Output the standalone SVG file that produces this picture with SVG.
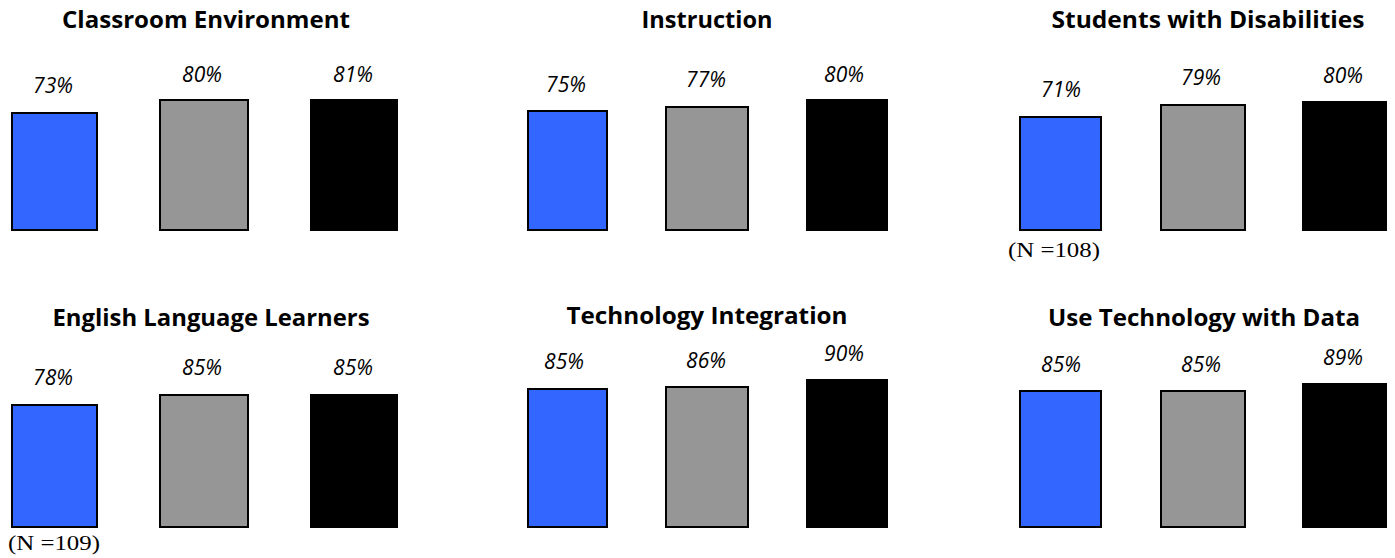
<svg xmlns="http://www.w3.org/2000/svg" width="1395" height="558" viewBox="0 0 1395 558">
<style>
.t{font-family:"Open Sans","Liberation Sans",sans-serif;font-weight:bold;font-size:24px;fill:#000;text-anchor:middle}
.p{font-family:"Open Sans","Liberation Sans",sans-serif;font-style:italic;font-size:21px;fill:#000;text-anchor:middle}
.n{font-family:"Liberation Serif",serif;font-size:22px;fill:#000}
.b{fill:#3366FF;stroke:#000;stroke-width:2}
.g{fill:#969696;stroke:#000;stroke-width:2}
.k{fill:#000;stroke:#000;stroke-width:2}
</style>
<rect width="1395" height="558" fill="#fff"/>
<g id="classroom-environment">
<text class="t" x="206" y="28" textLength="288" lengthAdjust="spacingAndGlyphs">Classroom Environment</text>
<rect class="b" x="12" y="113" width="85" height="117"/>
<rect class="g" x="160" y="100" width="88" height="130"/>
<rect class="k" x="311" y="100" width="86" height="130"/>
<text class="p" x="53" y="93">73%</text>
<text class="p" x="202" y="82">80%</text>
<text class="p" x="353" y="82">81%</text>
</g>
<g id="instruction">
<text class="t" x="707" y="28" textLength="131" lengthAdjust="spacingAndGlyphs">Instruction</text>
<rect class="b" x="528" y="111" width="79" height="119"/>
<rect class="g" x="666" y="107" width="82" height="123"/>
<rect class="k" x="807" y="100" width="80" height="130"/>
<text class="p" x="566" y="92">75%</text>
<text class="p" x="706" y="87">77%</text>
<text class="p" x="844" y="82">80%</text>
</g>
<g id="students-with-disabilities">
<text class="t" x="1208" y="28" textLength="313" lengthAdjust="spacingAndGlyphs">Students with Disabilities</text>
<rect class="b" x="1020" y="117" width="81" height="113"/>
<rect class="g" x="1161" y="105" width="84" height="125"/>
<rect class="k" x="1303" y="102" width="83" height="128"/>
<text class="p" x="1061" y="97">71%</text>
<text class="p" x="1201" y="85">79%</text>
<text class="p" x="1343" y="83">80%</text>
<text class="n" x="1008" y="257" textLength="92" lengthAdjust="spacingAndGlyphs">(N =108)</text>
</g>
<g id="english-language-learners">
<text class="t" x="211" y="326" textLength="317" lengthAdjust="spacingAndGlyphs">English Language Learners</text>
<rect class="b" x="12" y="405" width="85" height="122"/>
<rect class="g" x="160" y="395" width="88" height="132"/>
<rect class="k" x="311" y="395" width="86" height="132"/>
<text class="p" x="53" y="385">78%</text>
<text class="p" x="202" y="375">85%</text>
<text class="p" x="353" y="375">85%</text>
<text class="n" x="8" y="550" textLength="92" lengthAdjust="spacingAndGlyphs">(N =109)</text>
</g>
<g id="technology-integration">
<text class="t" x="707" y="324" textLength="281" lengthAdjust="spacingAndGlyphs">Technology Integration</text>
<rect class="b" x="528" y="389" width="79" height="138"/>
<rect class="g" x="666" y="387" width="82" height="140"/>
<rect class="k" x="807" y="380" width="80" height="147"/>
<text class="p" x="564" y="369">85%</text>
<text class="p" x="706" y="368">86%</text>
<text class="p" x="844" y="361">90%</text>
</g>
<g id="use-technology-with-data">
<text class="t" x="1204" y="326" textLength="312" lengthAdjust="spacingAndGlyphs">Use Technology with Data</text>
<rect class="b" x="1020" y="391" width="81" height="136"/>
<rect class="g" x="1161" y="391" width="84" height="136"/>
<rect class="k" x="1303" y="384" width="83" height="143"/>
<text class="p" x="1061" y="372">85%</text>
<text class="p" x="1201" y="372">85%</text>
<text class="p" x="1343" y="365">89%</text>
</g>
</svg>
